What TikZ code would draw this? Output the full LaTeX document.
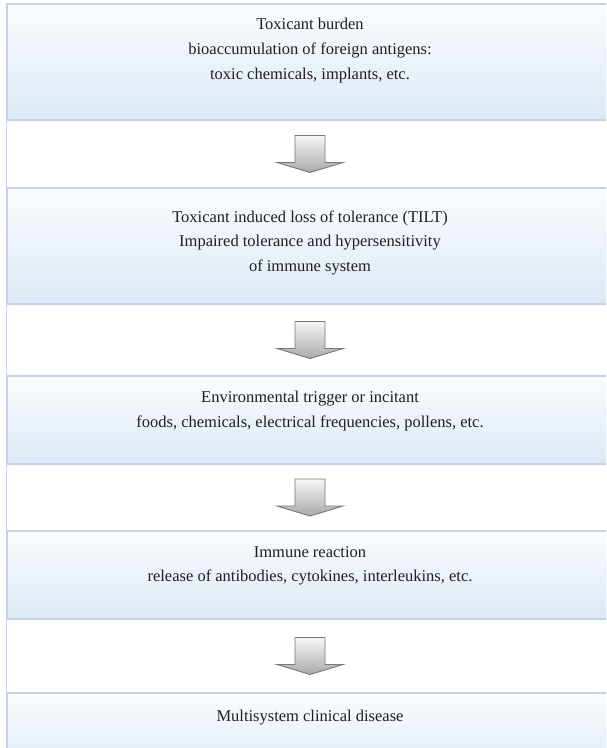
\documentclass[tikz,border=0pt]{standalone}
\usepackage{fontspec}
\setmainfont{Liberation Serif}
\usetikzlibrary{calc}

\definecolor{boxedge}{RGB}{196,211,233}
\definecolor{boxtop}{RGB}{250,252,254}
\definecolor{boxbottom}{RGB}{220,232,245}
\definecolor{arrowedge}{RGB}{120,120,120}
\definecolor{arrowtop}{RGB}{246,246,246}
\definecolor{arrowbottom}{RGB}{170,170,170}
\definecolor{inktext}{RGB}{35,31,32}

\tikzset{
  stepbox/.style={rectangle, minimum width=606pt, inner sep=0pt,
    top color=boxtop, bottom color=boxbottom},
  boxline/.style={draw=boxedge, line width=2pt},
  gapline/.style={draw=boxedge, line width=1pt},
  steptext/.style={align=center, text=inktext, inner sep=0pt,
    font=\fontsize{16.5}{24.8}\selectfont},
  downarrow/.pic={
    \path[draw=arrowedge, line width=0.9pt, line join=miter,
      top color=arrowtop, bottom color=arrowbottom]
      (-15,-18.5) -- (15,-18.5) -- (15,8.5) -- (33,8.5) -- (0,18.5)
      -- (-33,8.5) -- (-15,8.5) -- cycle;
  }
}

\begin{document}
\begin{tikzpicture}[x=1pt, y=-1pt]

    % --- Page frame ---
    \useasboundingbox (0,0) rectangle (606,748);
    \clip (0,0) rectangle (606,748);

    % --- Boxes ---
    \node[stepbox, minimum height=116pt] (burden)   at (310,62)  {};
    \node[stepbox, minimum height=116pt] (tilt)     at (310,246) {};
    \node[stepbox, minimum height=88pt]  (trigger)  at (310,420) {};
    \node[stepbox, minimum height=88pt]  (reaction) at (310,575) {};
    \node[stepbox, minimum height=88pt]  (disease)  at (310,737) {};

    % thin left rule running through the gaps
    \draw[gapline] (burden.north west) -- (disease.south west);

    % top, left and bottom edges of each box
    \foreach \b in {burden, tilt, trigger, reaction, disease}
      \draw[boxline] (\b.north east) -- (\b.north west)
        -- (\b.south west) -- (\b.south east);

    % --- Texts ---
    \node[steptext] (burdenlabel) at ($(burden.north)+(0,47)$)
      {Toxicant burden\\ bioaccumulation of foreign antigens:\\ toxic chemicals, implants, etc.};
    \node[steptext] (tiltlabel) at ($(tilt.north)+(0,55)$)
      {Toxicant induced loss of tolerance (TILT)\\ Impaired tolerance and hypersensitivity\\ of immune system};
    \node[steptext] (triggerlabel) at ($(trigger.north)+(0,35)$)
      {Environmental trigger or incitant\\ foods, chemicals, electrical frequencies, pollens, etc.};
    \node[steptext] (reactionlabel) at ($(reaction.north)+(0,35)$)
      {Immune reaction\\ release of antibodies, cytokines, interleukins, etc.};
    \node[steptext] (diseaselabel) at ($(disease.north)+(0,25)$)
      {Multisystem clinical disease};

    % --- Arrows between boxes ---
    \pic at ($(burden.south)!0.5!(tilt.north)$) {downarrow};
    \pic at ($(tilt.south)!0.5!(trigger.north)$) {downarrow};
    \pic at ($(trigger.south)!0.5!(reaction.north)$) {downarrow};
    \pic at ($(reaction.south)!0.5!(disease.north)$) {downarrow};

\end{tikzpicture}
\end{document}
